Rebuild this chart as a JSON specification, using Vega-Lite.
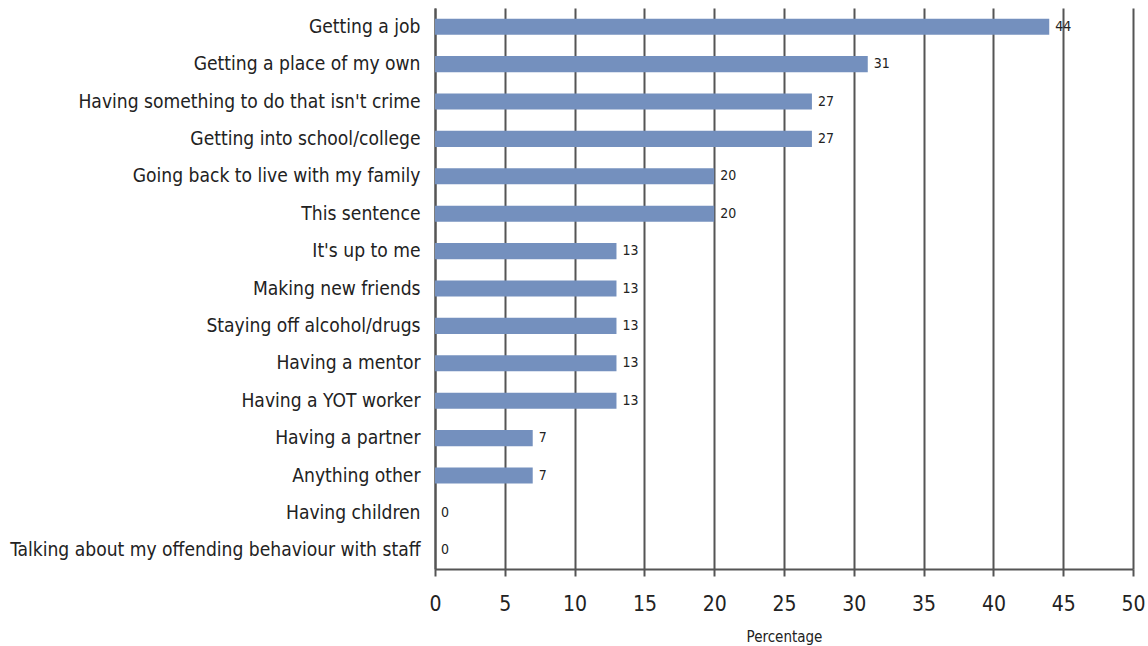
{
  "$schema": "https://vega.github.io/schema/vega-lite/v6.json",
  "width": 698,
  "height": 561,
  "autosize": "none",
  "padding": {"left": 435, "top": 8, "right": 15, "bottom": 77},
  "background": "white",
  "config": {
    "font": "'DejaVu Sans Condensed', 'Roboto Condensed', 'Liberation Sans Narrow', sans-serif",
    "view": {"stroke": null}
  },
  "data": {
    "values": [
      {"item": "Getting a job", "pct": 44},
      {"item": "Getting a place of my own", "pct": 31},
      {"item": "Having something to do that isn't crime", "pct": 27},
      {"item": "Getting into school/college", "pct": 27},
      {"item": "Going back to live with my family", "pct": 20},
      {"item": "This sentence", "pct": 20},
      {"item": "It's up to me ", "pct": 13},
      {"item": "Making new friends", "pct": 13},
      {"item": "Staying off alcohol/drugs", "pct": 13},
      {"item": "Having a mentor", "pct": 13},
      {"item": "Having a YOT worker", "pct": 13},
      {"item": "Having a partner", "pct": 7},
      {"item": "Anything other", "pct": 7},
      {"item": "Having children", "pct": 0},
      {"item": "Talking about my offending behaviour with staff", "pct": 0}
    ]
  },
  "encoding": {
    "y": {
      "field": "item",
      "type": "nominal",
      "sort": null,
      "scale": {"paddingInner": 0.57, "paddingOuter": 0.285},
      "axis": {
        "title": null,
        "ticks": false,
        "domain": true,
        "domainColor": "#555555",
        "domainWidth": 2,
        "labelFontSize": 19.1,
        "labelColor": "#222222",
        "labelPadding": 15,
        "labelLimit": 0
      }
    },
    "x": {
      "field": "pct",
      "type": "quantitative",
      "scale": {"domain": [0, 50], "nice": false},
      "axis": {
        "title": "Percentage",
        "titleFontSize": 15,
        "titleFontWeight": "normal",
        "titleColor": "#222222",
        "titlePadding": 15,
        "values": [0, 5, 10, 15, 20, 25, 30, 35, 40, 45, 50],
        "grid": true,
        "gridColor": "#555555",
        "gridWidth": 2,
        "domainColor": "#555555",
        "domainWidth": 2,
        "tickColor": "#555555",
        "tickWidth": 2,
        "tickSize": 7,
        "labelFontSize": 21,
        "labelFlush": false,
        "labelColor": "#222222",
        "labelPadding": 17
      }
    }
  },
  "layer": [
    {"mark": {"type": "bar", "color": "#7490BE"}},
    {
      "mark": {"type": "text", "align": "left", "dx": 6, "fontSize": 14, "color": "#222222"},
      "encoding": {"text": {"field": "pct", "type": "quantitative"}}
    }
  ]
}
